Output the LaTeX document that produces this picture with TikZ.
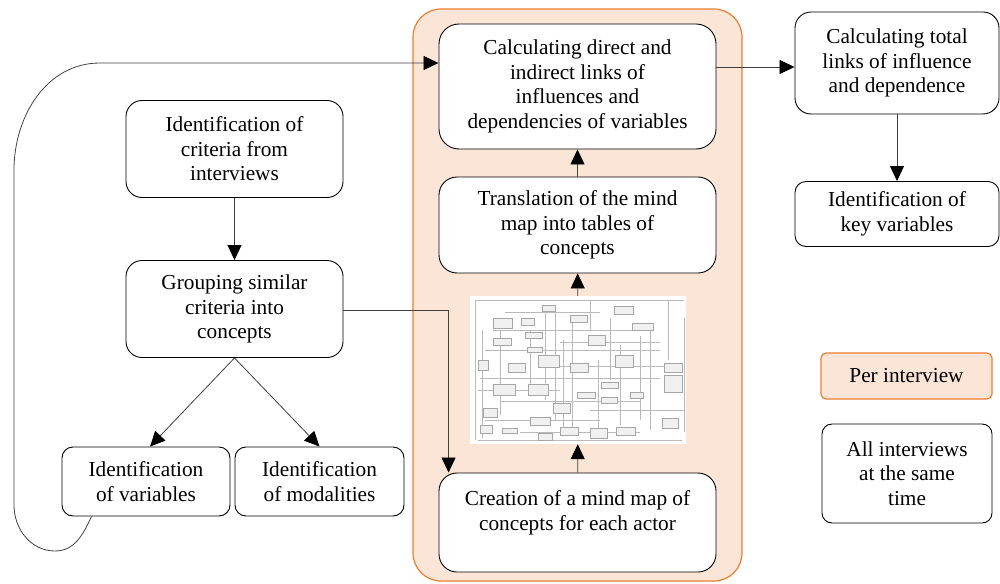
\documentclass[tikz,border=0pt]{standalone}
\usepackage{fontspec}
\setmainfont{Liberation Serif}
\usetikzlibrary{arrows.meta}
\definecolor{peach}{HTML}{FBE5D6}
\definecolor{accent}{HTML}{ED7D31}
\definecolor{linegray}{HTML}{404040}

\begin{document}
\begin{tikzpicture}[
  x=1pt,y=-1pt,
  font=\fontsize{21.3}{24.5}\selectfont,
  box/.style={draw,rounded corners=14pt,align=center,fill=white,line width=0.9pt,inner sep=2pt},
  groupbox/.style={draw=accent,fill=peach,rounded corners=28pt,line width=1.2pt},
  arrow/.style={-{Triangle[length=15pt,width=14pt,color=black]},draw=linegray,line width=0.8pt},
  minibox/.style={draw=gray!70,fill=gray!12,line width=0.5pt},
  miniline/.style={draw=gray!55,line width=0.5pt}
]
\useasboundingbox (0,0) rectangle (1000,583);

% per-interview block
\node[groupbox,minimum width=329pt,minimum height=572pt] (perint) at (577.5,295) {};

\node[box,minimum width=217pt,minimum height=97pt,rounded corners=16pt] (crit) at (234.5,149) {Identification of\\criteria from\\interviews};
\node[box,minimum width=217pt,minimum height=97pt,rounded corners=16pt] (group) at (234.5,309) {Grouping similar\\criteria into\\concepts};
\node[box,minimum width=168pt,minimum height=69pt,rounded corners=11pt] (vars) at (146,481.5) {Identification\\of variables};
\node[box,minimum width=169pt,minimum height=69pt,rounded corners=11pt] (mods) at (319.5,481.5) {Identification\\of modalities};

\node[box,minimum width=277pt,minimum height=125pt,rounded corners=20pt] (direct) at (577.5,86.5) {Calculating direct and\\indirect links of\\influences and\\dependencies of variables};
\node[box,minimum width=277pt,minimum height=96pt,rounded corners=18pt] (transl) at (577.5,225) {Translation of the mind\\map into tables of\\concepts};
\node[fill=white,minimum width=216pt,minimum height=148pt,inner sep=0pt] (mindmap) at (578,370) {};
\node[box,minimum width=277pt,minimum height=99pt,rounded corners=18pt] (creation) at (577.5,522.5) {Creation of a mind map of\\concepts for each actor\\\mbox{}};

\node[box,minimum width=204pt,minimum height=102pt,rounded corners=16pt] (total) at (897,63) {Calculating total\\links of influence\\and dependence};
\node[box,minimum width=204pt,minimum height=65pt,rounded corners=11pt] (keyvar) at (897,214) {Identification of\\key variables};

% legend
\node[groupbox,rounded corners=5pt,minimum width=171pt,minimum height=46pt] (perleg) at (906.5,376) {Per interview};
\node[box,rounded corners=10pt,minimum width=170pt,minimum height=99pt] (allleg) at (907,473.5) {All interviews\\at the same\\time};

% sketch of the mind map
\foreach \xa/\xb/\yy in {475/684/300, 478/682/440, 485/660/350, 480/660/378, 500/640/401, 485/600/420, 493/650/330,
  505/600/312, 540/680/366, 478/560/390, 590/684/410, 520/640/432, 560/660/342}
  \draw[miniline] (\xa,\yy) -- (\xb,\yy);
\foreach \xx/\ya/\yb in {475/300/440, 684/318/432, 555/305/420, 572/322/430, 650/330/430, 500/330/415, 620/345/425, 530/330/390, 598/360/437,
  482/330/438, 545/312/400, 563/340/436, 610/318/380, 640/336/420, 668/300/360, 590/300/330}
  \draw[miniline] (\xx,\ya) -- (\xx,\yb);
\foreach \xa/\ya/\xb/\yb in {542/305/555/311, 614/306/633/314, 493/318/512/328, 521/318/534/325, 570/315/587/322,
  632/323/653/330, 525/332/542/338, 493/338/511/345, 588/335/605/345, 527/347/542/352, 538/355/559/367,
  615/355/633/367, 478/360/488/370, 508/363/525/372, 570/363/588/372, 664/363/682/372, 664/375/682/392,
  601/382/618/388, 493/384/515/395, 528/384/548/395, 577/392/595/398, 601/397/617/403, 630/392/643/398,
  553/403/570/413, 483/408/497/417, 530/417/550/425, 662/418/678/428, 480/425/492/433, 502/428/517/433,
  538/433/552/440, 560/427/578/435, 590/428/607/438, 616/427/635/435}
  \draw[minibox] (\xa,\ya) rectangle (\xb,\yb);

% connectors
\coordinate (loopbot) at (55,551);
\coordinate (loopleft) at (14,505);
\coordinate (loopup) at (14,170);
\coordinate (looptop) at (100,63);
\draw[arrow] (crit)--(group);
\draw[arrow] (group.south)--([xshift=4pt]vars.north);
\draw[arrow] (group.south)--(mods.north);
\draw[arrow] ([yshift=-1.5pt]group.east) -| ([xshift=10pt]creation.north west);
\draw[arrow] (creation)--(mindmap);
\draw[arrow] (mindmap)--(transl);
\draw[arrow] (transl)--(direct);
\draw[arrow] ([xshift=30pt]vars.south west) to[out=-115,in=0] (loopbot) to[out=180,in=-90] (loopleft) -- (loopup) to[out=90,in=180] (looptop) -- (direct.west |- looptop);
\draw[arrow] ([yshift=-4pt]direct.east |- total.west) -- ([yshift=-4pt]total.west);
\draw[arrow] (total)--(keyvar);
\end{tikzpicture}
\end{document}
